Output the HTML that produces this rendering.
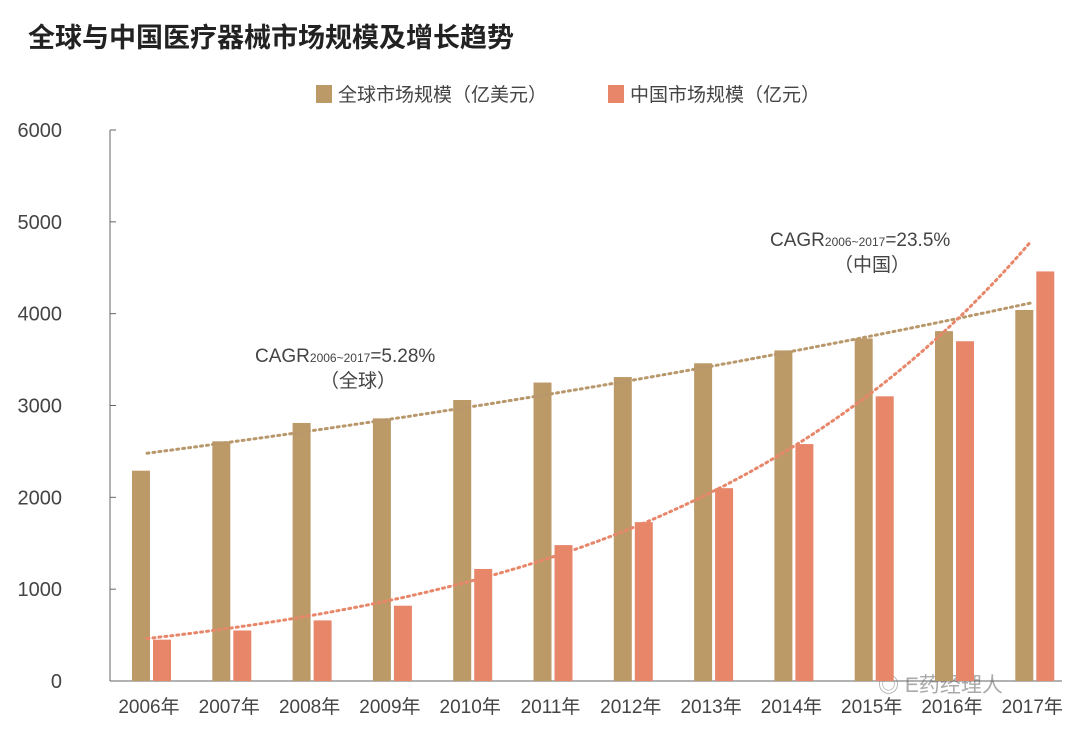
<!DOCTYPE html>
<html><head><meta charset="utf-8"><style>
body{margin:0;background:#fff;}
svg{display:block;font-family:"Liberation Sans","Noto Sans CJK SC",sans-serif;}
</style></head><body>
<svg id="c" width="1080" height="732">
<text x="28" y="47" font-size="27" font-weight="bold" fill="#222">全球与中国医疗器械市场规模及增长趋势</text>
<g>
<rect x="316" y="85" width="16" height="18" fill="#BC9A68"/>
<text x="338" y="101" font-size="19" fill="#444">全球市场规模（亿美元）</text>
<rect x="608" y="85" width="16" height="18" fill="#E8866A"/>
<text x="630" y="101" font-size="19" fill="#444">中国市场规模（亿元）</text>
</g>
<text x="255" y="362" font-size="19" fill="#444">CAGR<tspan font-size="12">2006~2017</tspan>=5.28%</text>
<text x="320" y="387" font-size="19" fill="#444">（全球）</text>
<text x="770" y="246" font-size="19" fill="#444">CAGR<tspan font-size="12">2006~2017</tspan>=23.5%</text>
<text x="834" y="271" font-size="19" fill="#444">（中国）</text>
<text x="878" y="692" font-size="21" fill="#aaa">◎ E药经理人</text>
</svg>
<script>
const years=["2006年","2007年","2008年","2009年","2010年","2011年","2012年","2013年","2014年","2015年","2016年","2017年"];
const globalVals=[2290,2610,2810,2860,3060,3250,3310,3460,3600,3730,3810,4040];
const chinaVals=[450,550,660,820,1220,1480,1730,2100,2580,3100,3700,4460];
const yTicks=[0,1000,2000,3000,4000,5000,6000];
const svg=document.getElementById('c');const NS='http://www.w3.org/2000/svg';
const y=v=>681-v*(551/6000);
const xc=i=>151+i*80.3;
function mk(t,a,p){const e=document.createElementNS(NS,t);for(const k in a)e.setAttribute(k,a[k]);(p||svg).appendChild(e);return e;}
const ax=mk('line',{x1:110,y1:130,x2:110,y2:681,stroke:'#666','stroke-width':1});


const bx=mk('line',{x1:110,y1:681,x2:1062,y2:681,stroke:'#666','stroke-width':1});


yTicks.forEach(v=>{
 const tk=mk('line',{x1:110,y1:y(v),x2:116,y2:y(v),stroke:'#666'});
 
 
 const t=mk('text',{x:62,y:y(v)+7,'font-size':20,fill:'#444','text-anchor':'end'});t.textContent=v;
 
 
});
years.forEach((yr,i)=>{
 const g=mk('rect',{x:xc(i)-19,y:y(globalVals[i]),width:18,height:681-y(globalVals[i]),fill:'#BC9A68'});
 
 
 const c=mk('rect',{x:xc(i)+2,y:y(chinaVals[i]),width:18,height:681-y(chinaVals[i]),fill:'#E8866A'});
 
 
 const t=mk('text',{x:xc(i)-2,y:713,'font-size':19,fill:'#444','text-anchor':'middle'});t.textContent=yr;
 
 
});
function expFit(vals){const n=vals.length;let sx=0,sy=0,sxx=0,sxy=0;vals.forEach((v,i)=>{const l=Math.log(v);sx+=i;sy+=l;sxx+=i*i;sxy+=i*l;});const b=(n*sxy-sx*sy)/(n*sxx-sx*sx);const a=(sy-b*sx)/n;return i=>Math.exp(a+b*i);}
function trend(vals,col,name){const f=expFit(vals);let d='';for(let s=0;s<=110;s++){const i=s/10;d+=(s?'L':'M')+(xc(i)-4).toFixed(1)+','+y(f(i)).toFixed(1);}
 const p=mk('path',{d:d,fill:'none',stroke:col,'stroke-width':3,'stroke-dasharray':'2 4','stroke-linecap':'round'});
 
 }
trend(globalVals,'#B8976A','trendline-global');
trend(chinaVals,'#E8866A','trendline-china');
</script>
</body></html>
